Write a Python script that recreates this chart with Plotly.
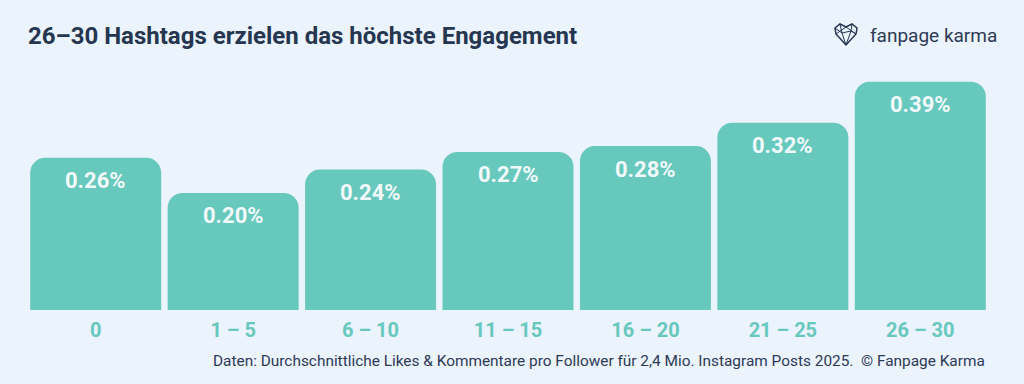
import plotly.graph_objects as go

categories = ["0", "1 – 5", "6 – 10", "11 – 15", "16 – 20", "21 – 25", "26 – 30"]
engagement = [0.26, 0.20, 0.24, 0.27, 0.28, 0.32, 0.39]
value_labels = [f"{v:.2f}%" for v in engagement]

title_text = "26–30 Hashtags erzielen das höchste Engagement"
footer_text = "Daten: Durchschnittliche Likes & Kommentare pro Follower für 2,4 Mio. Instagram Posts 2025.  © Fanpage Karma"
brand_text = "fanpage karma"

BG = "#EBF3FD"
BAR = "#67C8BD"
DARK = "#253650"

W, H = 1024, 384
ml, mr, mt, mb = 27, 35, 70, 74
pw, ph = W - ml - mr, H - mt - mb

fig = go.Figure()
fig.add_trace(go.Bar(
    x=categories, y=engagement,
    marker=dict(color=BAR, line=dict(width=0)),
    hoverinfo="skip",
))

for c, v, t in zip(categories, engagement, value_labels):
    fig.add_annotation(x=c, y=v, xref="x", yref="y", text=t, showarrow=False,
                       yshift=-23, font=dict(family="Roboto", size=22, color="#F2F9FB", weight="bold"))


def px_ann(x, y, text, size, color, anchor, bold=False):
    fig.add_annotation(x=(x - ml) / pw, y=1 - (y - mt) / ph, xref="paper", yref="paper",
                       text=text, showarrow=False, xanchor=anchor, yanchor="middle",
                       font=dict(family="Roboto", size=size, color=color,
                                 weight="bold" if bold else "normal"))


px_ann(26, 36, title_text, 24, DARK, "left", bold=True)
px_ann(987, 361, footer_text, 15.4, "#2D3A55", "right")
px_ann(868, 35, brand_text, 19, "#2D3A55", "left")

fig.update_layout(
    width=W, height=H,
    paper_bgcolor=BG, plot_bgcolor=BG,
    margin=dict(l=ml, r=mr, t=mt, b=mb),
    bargap=0.047,
    barcornerradius=15,
    showlegend=False,
    xaxis=dict(showgrid=False, zeroline=False, showline=False, ticks="",
               tickfont=dict(family="Roboto", size=20, color=BAR, weight="bold"),
               ticklabelstandoff=6),
    yaxis=dict(range=[0, 0.41], visible=False, showgrid=False, zeroline=False),
)


def P(x, y):
    return f"{(x - ml) / pw:.5f},{1 - (y - mt) / ph:.5f}"


heart = ("M " + P(846, 45) + " L " + P(836, 34) + " L " + P(835, 28) + " L " + P(840, 24) +
         " L " + P(846, 27) + " L " + P(852, 24) + " L " + P(857, 28) + " L " + P(856, 34) + " Z")
inner = ("M " + P(836, 34) + " L " + P(846, 27) + " L " + P(856, 34) +
         " M " + P(840, 24) + " L " + P(842, 33) + " L " + P(846, 45) +
         " M " + P(852, 24) + " L " + P(851, 31) + " L " + P(846, 45) +
         " M " + P(842, 33) + " L " + P(851, 31) + " L " + P(856, 34) +
         " M " + P(835, 28) + " L " + P(842, 33))
fig.add_shape(type="path", path=heart, xref="paper", yref="paper",
              line=dict(color=DARK, width=1.5), fillcolor="rgba(0,0,0,0)")
fig.add_shape(type="path", path=inner, xref="paper", yref="paper",
              line=dict(color=DARK, width=1))

fig.write_html("out.html", config={"displayModeBar": False},
               post_script="document.body.style.margin='0';document.body.style.background='" + BG + "';")
